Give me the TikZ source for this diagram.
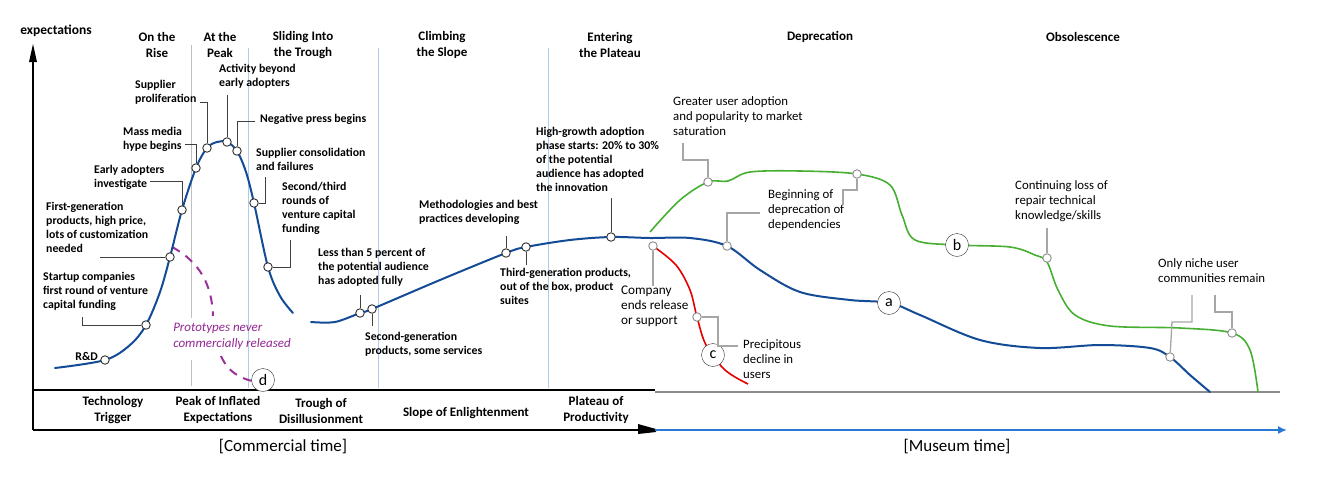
\documentclass[tikz,border=0pt]{standalone}
\usepackage{fontspec}
\setmainfont{Carlito}
\usetikzlibrary{arrows.meta}
\definecolor{hypeblue}{RGB}{20,75,150}
\definecolor{museblue}{RGB}{40,120,215}
\definecolor{grnc}{RGB}{70,175,50}
\definecolor{sepblue}{RGB}{175,205,235}
\begin{document}
\begin{tikzpicture}[x=1pt,y=-1pt,
  lbl/.style={font=\fontsize{11.8}{14}\selectfont\bfseries, align=left, anchor=north west, inner sep=0},
  mlbl/.style={font=\fontsize{12.8}{15}\selectfont, align=left, anchor=north west, inner sep=0},
  head/.style={font=\fontsize{13}{16}\selectfont\bfseries, align=center, inner sep=0},
  phase/.style={font=\fontsize{13}{16}\selectfont\bfseries, align=center, inner sep=0},
  pt/.style={circle, draw=black!80, fill=white, minimum size=8.5pt, inner sep=0, line width=0.9pt},
  gpt/.style={pt, draw=black!45},
  lead/.style={draw=black!75, line width=1pt},
  glead/.style={draw=black!35, line width=1.3pt},
  lett/.style={circle, draw=black!80, fill=white, minimum size=23pt, inner sep=0, font=\fontsize{16}{16}\selectfont},
  sep/.style={line width=1pt},
  hype/.style={draw=hypeblue, line width=2pt, line cap=round},
  grn/.style={draw=grnc, line width=1.6pt},
  redc/.style={draw=red!90!black, line width=1.6pt}]
\useasboundingbox (0,0) rectangle (1326,477);
% separators
\draw[sep, black!25] (191,45) -- (191,318) (191,360) -- (191,386);
\draw[sep, sepblue] (248,48) -- (248,388);
\draw[sep, sepblue] (378,48) -- (378,388);
\draw[sep, sepblue] (548,48) -- (548,388);
% axes and box
\draw[line width=1.6pt] (33,430) -- (33,60);
\fill (33,44) -- (29,62) -- (37,62) -- cycle;
\node[font=\fontsize{13.5}{14}\selectfont\bfseries, inner sep=0] (yl) at (56,31) {expectations};
\draw[line width=1.6pt] (33,390) -- (655,390);
\draw[line width=1.3pt] (33,430) -- (640,430);
\draw[black!45, line width=1.3pt] (655,392) -- (1280,392);
\coordinate (mt0) at (655,430);
\coordinate (mt1) at (1287,430);
\fill (638,424) -- (656,429) -- (656,432) -- (638,434) -- cycle;
\draw[museblue, line width=1.6pt, -{Latex[length=9pt,width=8pt]}] (mt0) -- (mt1);
\node[font=\fontsize{17}{18}\selectfont, inner sep=0] (ct) at (283,447) {[Commercial time]};
\node[font=\fontsize{17}{18}\selectfont, inner sep=0] (mut) at (957,447) {[Museum time]};
% headings
\node[head] (h1) at (157,45) {On the\\Rise};
\node[head] (h2) at (220,45) {At the\\Peak};
\node[head] (h3) at (303,45) {Sliding Into\\the Trough};
\node[head] (h4) at (442,45) {Climbing\\the Slope};
\node[head] (h5) at (610,45) {Entering\\the Plateau};
\node[head] (h6) at (820,37) {Deprecation};
\node[head] (h7) at (1083,37) {Obsolescence};
% phases
\node[phase] (f1) at (113,410) {Technology\\Trigger};
\node[phase] (f2) at (218,410) {Peak of Inflated\\Expectations};
\node[phase] (f3) at (321,411) {Trough of\\Disillusionment};
\node[phase] (f4) at (466,413) {Slope of Enlightenment};
\node[phase] (f5) at (596,410) {Plateau of\\Productivity};
% purple
\draw[violet!80, line width=2pt, dash pattern=on 9pt off 7pt] (172,247) .. controls (200,262) and (212,285) .. (213,316);
\draw[violet!80, line width=2pt, dash pattern=on 9pt off 7pt] (221,356) .. controls (228,372) and (240,378) .. (252,381);
\node[font=\fontsize{13}{16}\selectfont\itshape, text=violet!85, align=left, inner sep=0] (proto) at (232,336) {Prototypes never\\commercially released};
% curves
\draw[hype] plot[smooth, tension=0.55] coordinates {(55,368) (105,360) (130,345) (146,325) (160,292) (170,257) (182,210) (196,168) (207,148) (217,142) (227,142) (237,151) (246,172) (254,203) (268,267) (280,296) (293,313)};
\draw[hype] plot[smooth, tension=0.55] coordinates {(311,322) (335,322) (360,313) (372,309) (440,280) (506,253) (526,247) (570,240) (611,237) (650,238) (690,238) (727,246) (760,270) (800,292) (850,300) (890,303) (920,315) (980,340) (1040,348) (1100,345) (1150,348) (1170,357) (1190,375) (1210,392)};
\draw[grn] plot[smooth, tension=0.55] coordinates {(650,232) (680,200) (708,182) (728,181) (750,172) (800,171) (857,174) (890,185) (902,215) (915,240) (958,245) (1010,247) (1035,255) (1047,262) (1058,290) (1075,315) (1110,326) (1180,328) (1232,333) (1250,350) (1258,392)};
\draw[redc] plot[smooth, tension=0.55] coordinates {(653,246) (676,265) (690,290) (697,317) (706,345) (725,370) (748,384)};
% letter circles
\node[lett] (la) at (889,303) {a};
\node[lett] (lb) at (957,245) {b};
\node[lett] (lc) at (713,355) {c};
\node[lett] (ld) at (263,380) {d};
% points commercial
\node[pt] (p1) at (105,360) {};
\node[pt] (p2) at (146,325) {};
\node[pt] (p3) at (170,257) {};
\node[pt] (p4) at (182,210) {};
\node[pt] (p5) at (196,168) {};
\node[pt] (p6) at (207,148) {};
\node[pt] (p7) at (227,142) {};
\node[pt] (p8) at (237,151) {};
\node[pt] (p9) at (254,203) {};
\node[pt] (p10) at (268,267) {};
\node[pt] (p11) at (360,313) {};
\node[pt] (p12) at (372,309) {};
\node[pt] (p13) at (506,253) {};
\node[pt] (p14) at (526,247) {};
\node[pt] (p15) at (611,237) {};
% points museum
\node[gpt] (q1) at (708,182) {};
\node[gpt] (q2) at (857,174) {};
\node[gpt] (q3) at (727,246) {};
\node[gpt] (q4) at (653,246) {};
\node[gpt] (q5) at (697,317) {};
\node[gpt] (q6) at (1047,258) {};
\node[gpt] (q7) at (1170,357) {};
\node[gpt] (q8) at (1232,333) {};
% commercial labels
\node[lbl, anchor=east] (t1) at (98,356) {R\&D};
\node[lbl] (t2) at (43,272) {Startup companies\\first round of venture\\capital funding};
\draw[lead] (82,317) |- (p2);
\node[lbl] (t3) at (46,202) {First-generation\\products, high price,\\lots of customization\\needed};
\draw[lead] (100,257) -- (p3);
\node[lbl] (t4) at (94,165) {Early adopters\\investigate};
\draw[lead] (150,181) -| (p4);
\node[lbl] (t5) at (123,127) {Mass media\\hype begins};
\draw[lead] (185,144) -| (p5);
\node[lbl] (t6) at (135,80) {Supplier\\proliferation};
\draw[lead] (200,102) -| (p6);
\node[lbl] (t7) at (219,64) {Activity beyond\\early adopters};
\draw[lead] (227,95) -- (p7);
\node[lbl] (t8) at (260,114) {Negative press begins};
\draw[lead] (255,121) -| (p8);
\node[lbl] (t9) at (256,148) {Supplier consolidation\\and failures};
\draw[lead] (265,177) |- (p9);
\node[lbl] (t10) at (282,182) {Second/third\\rounds of\\venture capital\\funding};
\draw[lead] (290,240) |- (p10);
\node[lbl] (t11) at (318,248) {Less than 5 percent of\\the potential audience\\has adopted fully};
\draw[lead] (360,295) -- (p11);
\node[lbl] (t12) at (365,332) {Second-generation\\products, some services};
\draw[lead] (p12) -- (372,326);
\node[lbl] (t13) at (419,200) {Methodologies and best\\practices developing};
\draw[lead] (506,236) -- (p13);
\node[lbl] (t14) at (500,268) {Third-generation products,\\out of the box, product\\suites};
\draw[lead] (p14) -- (526,265);
\node[lbl] (t15) at (536,127) {High-growth adoption\\phase starts: 20\% to 30\%\\of the potential\\audience has adopted\\the innovation};
\draw[lead] (611,198) -- (p15);
% museum labels
\node[mlbl] (u1) at (673,96) {Greater user adoption\\and popularity to market\\saturation};
\draw[glead] (683,143) |- (708,160) -- (q1);
\node[mlbl] (u2) at (768,189) {Beginning of\\deprecation of\\dependencies};
\draw[glead] (760,213) -| (q3);
\draw[glead] (q2) -- (857,190) -| (843,205);
\node[mlbl, font=\fontsize{13.2}{15}\selectfont] (u3) at (621,286) {Company\\ends release\\or support};
\draw[glead] (q4) -- (653,286);
\node[mlbl] (u4) at (743,339) {Precipitous\\decline in\\users};
\draw[glead] (q5) -| (718,346) -- (738,346);
\node[mlbl] (u5) at (1015,180) {Continuing loss of\\repair technical\\knowledge/skills};
\draw[glead] (1047,228) -- (q6);
\node[mlbl] (u6) at (1158,258) {Only niche user\\communities remain};
\draw[glead] (1192,295) |- (1172,322) -- (q7);
\draw[glead] (1215,295) |- (1232,312) -- (q8);
\end{tikzpicture}
\end{document}
